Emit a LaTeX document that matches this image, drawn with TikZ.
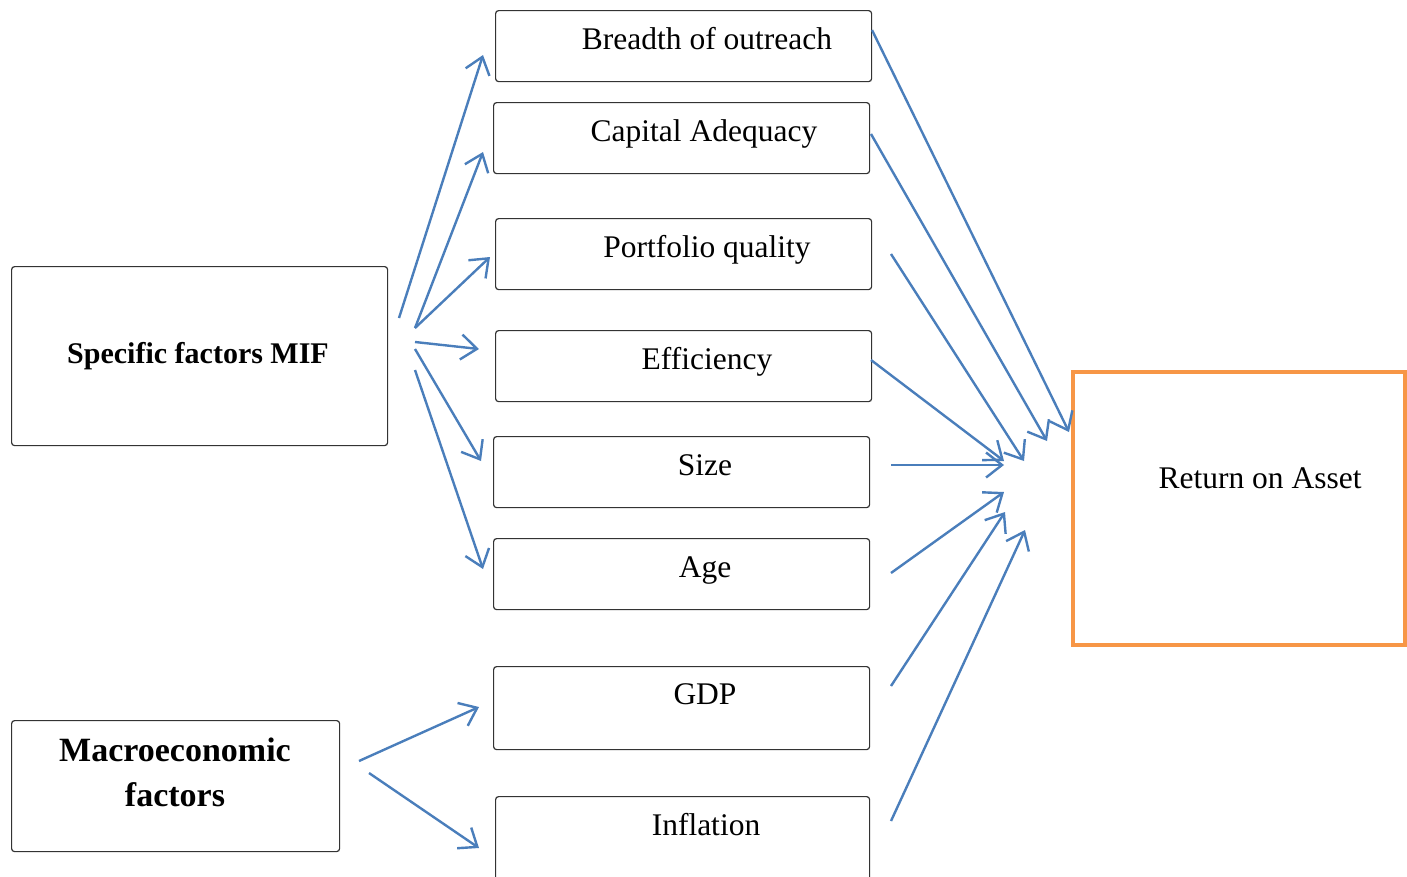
\documentclass[tikz,border=0pt]{standalone}
\usepackage{fontspec}
\setmainfont{Liberation Serif}
\usetikzlibrary{arrows.meta}
\definecolor{arrowblue}{HTML}{4A7EBB}
\definecolor{roaorange}{HTML}{F79646}
\definecolor{boxgray}{HTML}{333333}
\begin{document}
\begin{tikzpicture}[x=1pt,y=-1pt,
  box/.style={draw=boxgray,line width=1.2pt,rounded corners=3pt,anchor=north west,inner sep=0pt,fill=white},
  lbl/.style={font=\fontsize{31.5}{36}\selectfont,inner sep=0pt,anchor=base},
  blbl/.style={font=\bfseries,inner sep=0pt,align=center},
  arr/.style={draw=arrowblue,line width=2.4pt,-{Straight Barb[length=16pt,width=25pt,line width=2.4pt]}}]
\useasboundingbox (0,0) rectangle (1407,876);
% left boxes
\node[box,minimum width=376pt,minimum height=179pt] (spec) at (11,266) {};
\node[blbl,font=\fontsize{30}{36}\selectfont\bfseries] (spect) at (198,356) {Specific factors MIF};
\node[box,minimum width=328pt,minimum height=131pt] (macro) at (11,720) {};
\node[blbl,font=\fontsize{34}{45}\selectfont\bfseries] (macrot) at (175,772) {Macroeconomic\\factors};
% middle boxes
\node[box,minimum width=376pt,minimum height=71pt] (b1) at (495,10) {};
\node[lbl] at (707,49) {Breadth of outreach};
\node[box,minimum width=376pt,minimum height=71pt] (b2) at (493,102) {};
\node[lbl] at (704,141) {Capital Adequacy};
\node[box,minimum width=376pt,minimum height=71pt] (b3) at (495,218) {};
\node[lbl] at (707,257) {Portfolio quality};
\node[box,minimum width=376pt,minimum height=71pt] (b4) at (495,330) {};
\node[lbl] at (707,369) {Efficiency};
\node[box,minimum width=376pt,minimum height=71pt] (b5) at (493,436) {};
\node[lbl] at (705,475) {Size};
\node[box,minimum width=376pt,minimum height=71pt] (b6) at (493,538) {};
\node[lbl] at (705,577) {Age};
\node[box,minimum width=376pt,minimum height=83pt] (b7) at (493,666) {};
\node[lbl] at (705,704) {GDP};
\node[box,minimum width=374pt,minimum height=100pt] (b8) at (495,796) {};
\node[lbl] at (706,835) {Inflation};
% ROA
\node[draw=roaorange,line width=4pt,anchor=north west,minimum width=332pt,minimum height=273pt,inner sep=0pt] (roa) at (1071,370) {};
\node[lbl] at (1260,488) {Return on Asset};
% arrow end points
\coordinate (s1) at (399,318); \coordinate (e1) at (483,55);
\coordinate (s2) at (415,328); \coordinate (e2) at (483,152);
\coordinate (e3) at (490,257);
\coordinate (s4) at (415,342); \coordinate (e4) at (479,349);
\coordinate (s5) at (415,349); \coordinate (e5) at (481,461);
\coordinate (s6) at (415,370); \coordinate (e6) at (483,569);
\coordinate (m1) at (359,761); \coordinate (e7) at (479,707);
\coordinate (m2) at (369,773); \coordinate (e8) at (479,848);
\coordinate (r1) at (872,30);  \coordinate (t1) at (1069,432);
\coordinate (r2) at (871,134); \coordinate (t2) at (1047,441);
\coordinate (r3) at (891,254); \coordinate (t3) at (1024,461);
\coordinate (r4) at (871,360); \coordinate (t4) at (1004,461);
\coordinate (r5) at (891,465); \coordinate (t5) at (1004,465);
\coordinate (r6) at (891,573); \coordinate (t6) at (1004,492);
\coordinate (r7) at (891,686); \coordinate (t7) at (1005,512);
\coordinate (r8) at (891,821); \coordinate (t8) at (1025,530);
\draw[arr] (s1) -- (e1);
\draw[arr] (s2) -- (e2);
\draw[arr] (s2) -- (e3);
\draw[arr] (s4) -- (e4);
\draw[arr] (s5) -- (e5);
\draw[arr] (s6) -- (e6);
\draw[arr] (m1) -- (e7);
\draw[arr] (m2) -- (e8);
\draw[arr] (r1) -- (t1);
\draw[arr] (r2) -- (t2);
\draw[arr] (r3) -- (t3);
\draw[arr] (r4) -- (t4);
\draw[arr] (r5) -- (t5);
\draw[arr] (r6) -- (t6);
\draw[arr] (r7) -- (t7);
\draw[arr] (r8) -- (t8);
\end{tikzpicture}
\end{document}
